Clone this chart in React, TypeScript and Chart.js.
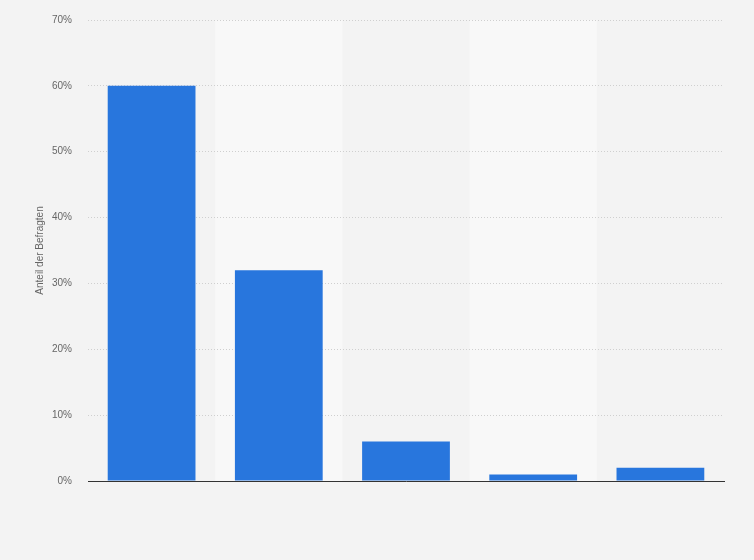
import React, { useEffect, useRef } from "react";
import { Chart, registerables } from "chart.js";

Chart.register(...registerables);

const categories: string[] = ["Kategorie 1", "Kategorie 2", "Kategorie 3", "Kategorie 4", "Kategorie 5"];
const values: number[] = [60, 32, 6, 1, 2];
const yTicks: number[] = [0, 10, 20, 30, 40, 50, 60, 70];

const bandPlugin = {
  id: "bands",
  beforeDraw(chart: any) {
    const { ctx, chartArea, scales } = chart;
    const x = scales.x;
    const n = categories.length;
    const w = (chartArea.right - chartArea.left) / n;
    ctx.save();
    ctx.fillStyle = "#f8f8f8";
    for (let i = 1; i < n; i += 2) {
      const c = x.getPixelForValue(i);
      ctx.fillRect(c - w / 2, chartArea.top, w, chartArea.bottom - chartArea.top);
    }
    ctx.restore();
  },
};

export default function App() {
  const ref = useRef<HTMLCanvasElement | null>(null);
  useEffect(() => {
    document.body.style.margin = "0";
    document.body.style.background = "#f3f3f3";
    if (!ref.current) return;
    const chart = new Chart(ref.current, {
      type: "bar",
      data: {
        labels: categories,
        datasets: [
          {
            data: values,
            backgroundColor: "#2876dd",
            borderWidth: 0,
            categoryPercentage: 0.69,
            barPercentage: 1,
          },
        ],
      },
      plugins: [bandPlugin],
      options: {
        animation: false,
        responsive: false,
        maintainAspectRatio: false,
        layout: { padding: { top: 20, right: 30, left: 0, bottom: 0 } },
        plugins: {
          legend: { display: false },
          tooltip: { enabled: false },
        },
        scales: {
          x: {
            grid: { display: false, drawTicks: false },
            border: { display: true, color: "#333333", width: 1 },
            ticks: { display: false },
            afterFit: (s: any) => {
              s.height = 79;
            },
          },
          y: {
            min: 0,
            max: 70,
            afterBuildTicks: (s: any) => {
              s.ticks = yTicks.map((v) => ({ value: v }));
            },
            grid: {
              color: "#cfcfcf",
              drawTicks: false,
              lineWidth: 1,
            },
            border: { display: false, dash: [1, 2] },
            ticks: {
              padding: 16,
              color: "#666666",
              font: { family: "Liberation Sans, Arial, sans-serif", size: 10 },
              callback: (v: any) => v + "%",
            },
            title: {
              display: true,
              text: "Anteil der Befragten",
              color: "#666666",
              font: { family: "Liberation Sans, Arial, sans-serif", size: 10 },
              padding: { top: 34, bottom: 0 },
            },
            afterFit: (s: any) => {
              s.width = 88;
              s.paddingTop = 0;
              s.paddingBottom = 0;
            },
          },
        },
      },
    });
    return () => chart.destroy();
  }, []);
  return (
    <div style={{ position: "absolute", left: 0, top: 0, width: 754, height: 560, background: "#f3f3f3" }}>
      <canvas ref={ref} width={754} height={560} style={{ width: 754, height: 560 }} />
    </div>
  );
}
